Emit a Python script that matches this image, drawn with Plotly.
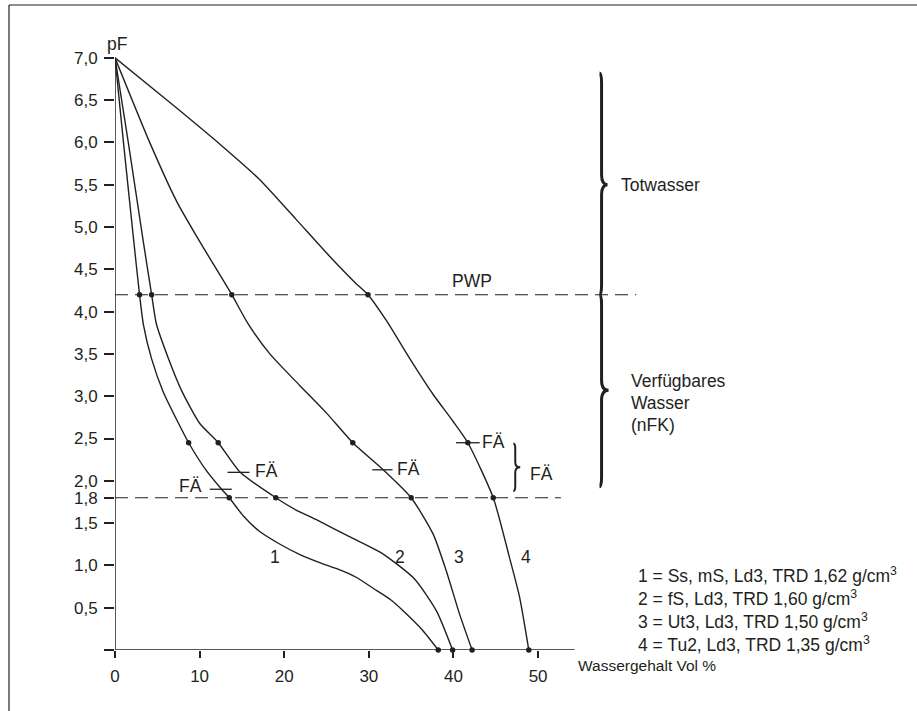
import plotly.graph_objects as go

# ---------------- data ----------------
curve1_x = [0, 1.0, 2.2, 2.9, 3.35, 4.3, 5.7, 7.5, 8.7, 10.8, 12.6, 13.5, 15.2, 17.1, 19.5, 21.8, 24.5, 26.5, 28.5, 30.5, 32.5, 34.2, 36.3, 38.2]
curve1_pf = [7.0, 6.0, 4.85, 4.2, 3.85, 3.45, 3.05, 2.68, 2.45, 2.12, 1.9, 1.8, 1.58, 1.4, 1.25, 1.13, 1.02, 0.95, 0.86, 0.73, 0.6, 0.45, 0.24, 0.0]

curve2_x = [0, 1.57, 3.34, 4.33, 4.9, 6.3, 7.9, 10.0, 12.2, 14.8, 19.0, 21.3, 23.8, 27.7, 31.6, 35.4, 38.0, 39.9]
curve2_pf = [7.0, 6.0, 4.83, 4.2, 3.85, 3.45, 3.06, 2.68, 2.45, 2.1, 1.8, 1.66, 1.54, 1.34, 1.14, 0.84, 0.46, 0.0]

curve3_x = [0, 4.1, 7.3, 10.0, 13.8, 15.7, 18.3, 21.8, 25.0, 28.1, 31.7, 35.0, 37.6, 39.2, 40.7, 42.2]
curve3_pf = [7.0, 6.0, 5.3, 4.83, 4.2, 3.86, 3.5, 3.13, 2.8, 2.45, 2.13, 1.8, 1.37, 0.92, 0.43, 0.0]

curve4_x = [0, 7.0, 12.5, 17.0, 21.4, 25.3, 28.5, 29.9, 32.1, 34.8, 37.6, 39.9, 41.7, 44.7, 46.6, 47.8, 48.9]
curve4_pf = [7.0, 6.43, 5.97, 5.57, 5.09, 4.66, 4.33, 4.2, 3.89, 3.45, 3.02, 2.71, 2.45, 1.8, 1.1, 0.63, 0.0]

dot_pf = [4.2, 2.45, 1.8, 0.0]
curve1_dots_x = [2.9, 8.7, 13.5, 38.2]
curve2_dots_x = [4.33, 12.2, 19.0, 39.9]
curve3_dots_x = [13.8, 28.1, 35.0, 42.2]
curve4_dots_x = [29.9, 41.7, 44.7, 48.9]

curve_labels = ["1", "2", "3", "4"]
curve_label_x = [18.9, 33.7, 40.6, 48.6]
curve_label_pf = [1.1, 1.1, 1.1, 1.1]

fae_x0 = [11.2, 13.3, 30.4, 40.3]
fae_x1 = [13.8, 15.9, 32.8, 43.1]
fae_pf = [1.9, 2.1, 2.13, 2.45]
fae_text_x = [8.9, 17.9, 34.7, 44.7]
fae_text_pf = [1.94, 2.12, 2.14, 2.46]

pwp_pf = 4.2
fk_pf = 1.8

x_tick_vals = [0, 10, 20, 30, 40, 50]
x_tick_text = ["0", "10", "20", "30", "40", "50"]
y_tick_vals = [0, 0.5, 1.0, 1.5, 1.8, 2.0, 2.5, 3.0, 3.5, 4.0, 4.5, 5.0, 5.5, 6.0, 6.5, 7.0]
y_tick_text = ["", "0,5", "1,0", "1,5", "1,8", "2,0", "2,5", "3,0", "3,5", "4,0", "4,5", "5,0", "5,5", "6,0", "6,5", "7,0"]

legend_lines = [
    "1 = Ss, mS, Ld3, TRD 1,62 g/cm<sup>3</sup>",
    "2 = fS, Ld3, TRD 1,60 g/cm<sup>3</sup>",
    "3 = Ut3, Ld3, TRD 1,50 g/cm<sup>3</sup>",
    "4 = Tu2, Ld3, TRD 1,35 g/cm<sup>3</sup>",
]

# ---------------- layout constants ----------------
W, H = 917, 711
ML, MB, MT, MR = 115, 61, 0, 0
PX_X = 8.462   # px per % unit
PX_Y = 84.6    # px per pF unit
XMAX = (W - ML - MR) / PX_X
YMAX = (H - MB - MT) / PX_Y
INK = "#231f20"
FONT = "Liberation Sans, Arial, sans-serif"
FS = 17.5
TFS = 17

def dx(px):
    return px / PX_X

def dy(px):
    return px / PX_Y

fig = go.Figure()

for cx, cy in [(curve1_x, curve1_pf), (curve2_x, curve2_pf), (curve3_x, curve3_pf), (curve4_x, curve4_pf)]:
    fig.add_trace(go.Scatter(x=cx, y=cy, mode="lines",
                             line=dict(color=INK, width=1.4, shape="spline", smoothing=0.6),
                             hoverinfo="skip", showlegend=False))

for dxs in [curve1_dots_x, curve2_dots_x, curve3_dots_x, curve4_dots_x]:
    fig.add_trace(go.Scatter(x=dxs, y=dot_pf, mode="markers",
                             marker=dict(color=INK, size=5.5), cliponaxis=False,
                             hoverinfo="skip", showlegend=False))

shapes = []
# axis lines
shapes.append(dict(type="line", xref="x", yref="y", x0=0, x1=0, y0=0, y1=7.0,
                   line=dict(color=INK, width=1.5)))
shapes.append(dict(type="line", xref="x", yref="y", x0=0, x1=54.3, y0=0, y1=0,
                   line=dict(color=INK, width=1.5)))
# dashed reference lines
shapes.append(dict(type="line", xref="x", yref="y", x0=0, x1=61.6, y0=pwp_pf, y1=pwp_pf,
                   line=dict(color=INK, width=1.1, dash="13px,7px")))
shapes.append(dict(type="line", xref="x", yref="y", x0=0, x1=52.7, y0=fk_pf, y1=fk_pf,
                   line=dict(color=INK, width=1.1, dash="13px,7px")))
# FÄ ticks
for a, b, p in zip(fae_x0, fae_x1, fae_pf):
    shapes.append(dict(type="line", xref="x", yref="y", x0=a, x1=b, y0=p, y1=p,
                       line=dict(color=INK, width=1.3)))


def brace_path(x0, y_top, y_bot, depth_px, hook_px, r_px, mid=None):
    ym = (y_top + y_bot) / 2 if mid is None else mid
    h = dx(hook_px)
    d = dx(depth_px)
    r = dy(r_px)
    return (f"M {x0 - h},{y_top} Q {x0},{y_top} {x0},{y_top - r} "
            f"L {x0},{ym + r} Q {x0},{ym} {x0 + d},{ym} "
            f"Q {x0},{ym} {x0},{ym - r} "
            f"L {x0},{y_bot + r} Q {x0},{y_bot} {x0 - h},{y_bot}")

shapes.append(dict(type="path", xref="x", yref="y",
                   path=brace_path(57.5, 6.82, 4.2, 6, 2, 10, mid=5.5),
                   line=dict(color=INK, width=3)))
shapes.append(dict(type="path", xref="x", yref="y",
                   path=brace_path(57.5, 4.2, 1.93, 7, 2, 10, mid=3.07),
                   line=dict(color=INK, width=3)))
shapes.append(dict(type="path", xref="x", yref="y",
                   path=brace_path(47.3, 2.44, 1.88, 5, 2, 5),
                   line=dict(color=INK, width=2)))

# outer frame (paper coords)
PW, PH = W - ML - MR, H - MB - MT
fx = (9 - ML) / PW
fy = (H - MB - 5) / PH
shapes.append(dict(type="line", xref="paper", yref="paper", x0=fx, x1=fx, y0=fy, y1=-MB / PH,
                   line=dict(color=INK, width=1.2)))
shapes.append(dict(type="line", xref="paper", yref="paper", x0=fx, x1=1.0, y0=fy, y1=fy,
                   line=dict(color=INK, width=1.2)))

annotations = []

def txt(x, y, s, xanchor="center", size=FS, ref="data"):
    xr, yr = ("x", "y") if ref == "data" else ("paper", "paper")
    annotations.append(dict(x=x, y=y, xref=xr, yref=yr, text=s, showarrow=False,
                            xanchor=xanchor, yanchor="middle",
                            font=dict(family=FONT, size=size, color=INK)))

for s, x, y in zip(curve_labels, curve_label_x, curve_label_pf):
    txt(x, y, s)
for x, y in zip(fae_text_x, fae_text_pf):
    txt(x, y, "FÄ")
txt(50.4, 2.08, "FÄ")
txt(42.2, 4.36, "PWP")
txt(0.25, 7.16, "pF")
txt(59.6, 5.5, "Totwasser", xanchor="left")
txt(60.8, 3.18, "Verfügbares", xanchor="left")
txt(60.8, 2.92, "Wasser", xanchor="left")
txt(60.8, 2.66, "(nFK)", xanchor="left")
for i, s in enumerate(legend_lines):
    txt(61.6, 0.887 - i * 0.272, s, xanchor="left")
txt((576 - ML) / PW, (H - MB - 665) / PH, "Wassergehalt Vol %", xanchor="left", size=15.5, ref="paper")

fig.update_layout(
    width=W, height=H,
    margin=dict(l=ML, r=MR, t=MT, b=MB),
    paper_bgcolor="white", plot_bgcolor="white",
    shapes=shapes, annotations=annotations,
    font=dict(family=FONT, size=FS, color=INK),
    xaxis=dict(range=[0, XMAX], showgrid=False, zeroline=False, showline=False,
               tickmode="array", tickvals=x_tick_vals, ticktext=x_tick_text,
               ticks="outside", ticklen=7, tickwidth=1.5, tickcolor=INK,
               ticklabelstandoff=4, tickfont=dict(family=FONT, size=TFS, color=INK)),
    yaxis=dict(range=[0, YMAX], showgrid=False, zeroline=False, showline=False,
               tickmode="array", tickvals=y_tick_vals, ticktext=y_tick_text,
               ticks="outside", ticklen=10, tickwidth=1.5, tickcolor=INK,
               ticklabelstandoff=3, tickfont=dict(family=FONT, size=TFS, color=INK)),
)

fig.write_html("out.html", config={"displayModeBar": False},
               post_script="document.body.style.margin='0';document.body.style.overflow='hidden';")
